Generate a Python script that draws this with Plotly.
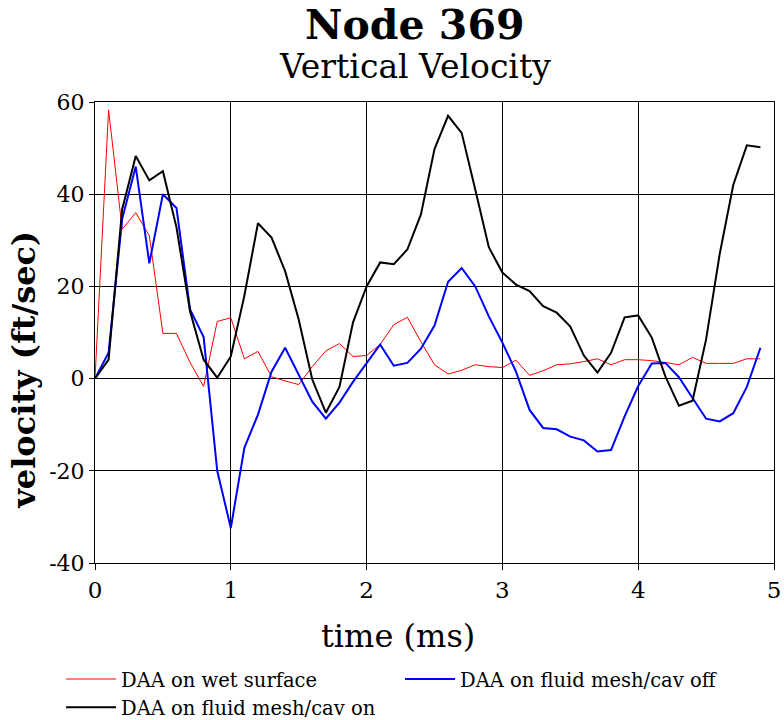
import plotly.graph_objects as go

time_ms = [round(i * 0.1, 1) for i in range(50)]

wet_surface = [0, 58.3, 32.4, 36, 31, 9.8, 9.8, 3.5, -1.7, 12.4,
               13.2, 4.3, 5.9, 0.4, -0.5, -1.3, 2.6, 6, 7.6, 4.8,
               5, 7.4, 11.7, 13.3, 8, 3, 1, 1.8, 3, 2.6,
               2.4, 4, 0.7, 1.7, 3, 3.2, 3.7, 4.3, 3, 4.1,
               4.1, 3.9, 3.5, 3, 4.6, 3.3, 3.3, 3.3, 4.3, 4.3]

cav_off = [0, 5.6, 34.6, 46, 25, 40, 37, 15, 9, -20,
           -32.4, -15, -7.8, 1.5, 6.7, 0.9, -5, -8.7, -5.2, -0.7,
           3.4, 7.4, 2.8, 3.4, 6.5, 11.5, 21, 24, 20, 13.5,
           7.8, 1.5, -6.8, -10.7, -11, -12.6, -13.4, -15.8, -15.5, -8.2,
           -1.6, 3.3, 3.4, 0.3, -4.2, -8.7, -9.3, -7.5, -1.8, 6.7]

cav_on = [0, 4.1, 36.7, 48.3, 43, 45, 32.8, 14.6, 4.1, 0.2,
          4.8, 18, 33.7, 30.6, 23.3, 12.8, -0.2, -7.4, -1.8, 12.2,
          20, 25.2, 24.8, 28, 35.6, 49.8, 57, 53.3, 41, 28.5,
          23, 20.4, 19, 15.7, 14.3, 11.3, 5, 1.3, 5.6, 13.3,
          13.7, 8.9, 0.5, -5.9, -4.8, 8.5, 27, 42, 50.6, 50.2]

series_names = ["DAA on wet surface", "DAA on fluid mesh/cav off", "DAA on fluid mesh/cav on"]
x_ticks = [0, 1, 2, 3, 4, 5]
y_ticks = [-40, -20, 0, 20, 40, 60]

FONT = "DejaVu Serif"

fig = go.Figure()
fig.add_trace(go.Scatter(x=time_ms, y=wet_surface, mode="lines", name=series_names[0],
                         line=dict(color="#ff0000", width=1)))
fig.add_trace(go.Scatter(x=time_ms, y=cav_off, mode="lines", name=series_names[1],
                         line=dict(color="#0000ff", width=2)))
fig.add_trace(go.Scatter(x=time_ms, y=cav_on, mode="lines", name=series_names[2],
                         line=dict(color="#000000", width=2)))

fig.update_layout(
    width=784, height=720,
    margin=dict(l=95, r=10, t=102, b=157, autoexpand=False),
    paper_bgcolor="white", plot_bgcolor="white",
    font=dict(family=FONT, color="black"),
    showlegend=True,
    legend=dict(orientation="h", x=-0.05, xanchor="left", y=-0.21, yanchor="top",
                font=dict(family=FONT, size=19.5, color="black"),
                entrywidth=274, entrywidthmode="pixels",
                tracegroupgap=0, itemwidth=50,
                bgcolor="rgba(0,0,0,0)"),
    annotations=[
        dict(text="<b>Node 369</b>", xref="paper", yref="paper", x=0.471, y=1.167,
             xanchor="center", yanchor="middle", showarrow=False,
             font=dict(family=FONT, size=41, color="black")),
        dict(text="Vertical Velocity", xref="paper", yref="paper", x=0.471, y=1.076,
             xanchor="center", yanchor="middle", showarrow=False,
             font=dict(family=FONT, size=33, color="black")),
        dict(text="time (ms)", xref="paper", yref="paper", x=0.446, y=-0.158,
             xanchor="center", yanchor="middle", showarrow=False,
             font=dict(family=FONT, size=32, color="black")),
        dict(text="<b>velocity (ft/sec)</b>", xref="paper", yref="paper", x=-0.104, y=0.42,
             xanchor="center", yanchor="middle", showarrow=False, textangle=-90,
             font=dict(family=FONT, size=32, color="black")),
    ],
)

fig.update_xaxes(range=[0, 5], tickvals=x_ticks, ticktext=[str(v) for v in x_ticks],
                 showgrid=True, gridcolor="black", gridwidth=1,
                 zeroline=False, showline=True, linecolor="black", linewidth=1, mirror=True,
                 ticks="outside", ticklen=6, tickcolor="black",
                 tickfont=dict(family=FONT, size=23, color="black"))
fig.update_yaxes(range=[-40, 60], tickvals=y_ticks, ticktext=[str(v) for v in y_ticks],
                 showgrid=True, gridcolor="black", gridwidth=1,
                 zeroline=True, zerolinecolor="black", zerolinewidth=1,
                 showline=True, linecolor="black", linewidth=1, mirror=True,
                 ticks="outside", ticklen=5, tickcolor="black",
                 tickfont=dict(family=FONT, size=22, color="black"))

fig.write_html("out.html", config={"displayModeBar": False},
               post_script="document.body.style.margin='0';document.body.style.overflow='hidden';")
